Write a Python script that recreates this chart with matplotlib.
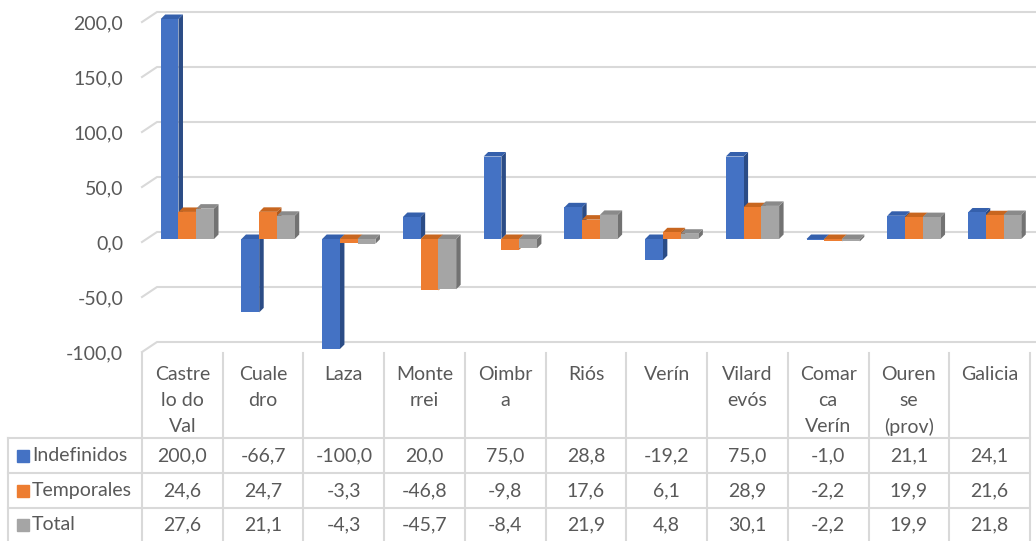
import matplotlib.pyplot as plt
from matplotlib.patches import Polygon
from matplotlib.transforms import ScaledTranslation, blended_transform_factory
import numpy as np

plt.rcParams['font.family'] = ['Lato', 'DejaVu Sans']

categories = ['Castre\nlo do\nVal', 'Cuale\ndro', 'Laza', 'Monte\nrrei', 'Oimbr\na',
              'Riós', 'Verín', 'Vilard\nevós', 'Comar\nca\nVerín', 'Ouren\nse\n(prov)',
              'Galicia']
series = ['Indefinidos', 'Temporales', 'Total']
indefinidos = [200.0, -66.7, -100.0, 20.0, 75.0, 28.8, -19.2, 75.0, -1.0, 21.1, 24.1]
temporales = [24.6, 24.7, -3.3, -46.8, -9.8, 17.6, 6.1, 28.9, -2.2, 19.9, 21.6]
total = [27.6, 21.1, -4.3, -45.7, -8.4, 21.9, 4.8, 30.1, -2.2, 19.9, 21.8]
yticks = [-100, -50, 0, 50, 100, 150, 200]

face = ['#4472C4', '#ED7D31', '#A5A5A5']
side = ['#2B4C86', '#AE5A1F', '#727272']
top = ['#3560AC', '#C8661F', '#8A8A8A']
grid = '#D9D9D9'
txt = '#595959'
fs = 14

W, H = 1036, 541
fig = plt.figure(figsize=(W / 100, H / 100), dpi=100)
ax = fig.add_axes([142 / W, (H - 352) / H, 888 / W, 330 / H])
ax.set_xlim(-0.5, len(categories) - 0.5)
ax.set_ylim(-100, 200)
ax.patch.set_visible(False)
for s in ax.spines.values():
    s.set_visible(False)
ax.set_xticks([])
ax.set_yticks(yticks)
ax.set_yticklabels([f'{v:.1f}'.replace('.', ',') for v in yticks])
ax.tick_params(axis='y', length=0, pad=13.5, labelsize=fs, labelcolor=txt)

# pixel -> data conversion for the oblique depth
kx = (len(categories)) / ax.bbox.width
ky = 300 / ax.bbox.height


def depth(x, y, dx, dy):
    return np.column_stack([np.asarray(x, float) + np.asarray(dx, float) * kx,
                            np.asarray(y, float) + np.asarray(dy, float) * ky])


# back wall gridlines and their slant on the side wall
wall_dx, wall_dy = 15, 10
for v in yticks:
    p = depth([-0.5, -0.5, 11.5], [v, v, v], [0, wall_dx, wall_dx], [0, wall_dy, wall_dy])
    ax.plot(p[:, 0], p[:, 1], color=grid, lw=1.5, clip_on=False, zorder=1)

# 3D columns: front faces via ax.bar, sides and caps as polygons
bar_dx, bar_dy = 5, 3
bd = 4.5
w = 0.22
shift = ax.transData + ScaledTranslation(bar_dx / 100, bar_dy / 100, fig.dpi_scale_trans)
x = np.arange(len(categories))
for s, vals in enumerate([indefinidos, temporales, total]):
    xs = x + (s - 1) * w
    ax.bar(xs, vals, width=w, color=face[s], transform=shift, zorder=3, clip_on=False)
    for xi, v in zip(xs, vals):
        x0, x1 = xi - w / 2, xi + w / 2
        x0, x1 = x0 + bar_dx * kx, x1 + bar_dx * kx
        b0 = bar_dy * ky
        sd = depth([x1, x1, x1, x1], [b0, b0 + v, b0 + v, b0], [0, 0, bd, bd], [0, 0, bd, bd])
        ax.add_patch(Polygon(sd, closed=True, color=side[s], lw=0, zorder=2, clip_on=False))
        t = b0 + max(v, 0)
        tp = depth([x0, x1, x1, x0], [t, t, t, t], [0, 0, bd, bd], [0, 0, bd, bd])
        ax.add_patch(Polygon(tp, closed=True, color=top[s], lw=0, zorder=2, clip_on=False))

# data table below the plot
tr = blended_transform_factory(ax.transData, fig.transFigure)
fy = lambda py: 1 - py / H
fx = lambda px: (px - 142) * kx - 0.5
row_lines = [438, 473, 508]
row_mid = [455.5, 490.5, 524.5]
for k in range(len(categories) + 1):
    ax.plot([k - 0.5, k - 0.5], [fy(353), fy(H + 2)], color=grid, lw=1.5, transform=tr, clip_on=False)
ax.plot([fx(8), fx(8)], [fy(438), fy(H + 2)], color=grid, lw=1.5, transform=tr, clip_on=False)
for py in row_lines:
    ax.plot([fx(8), len(categories) - 0.5], [fy(py), fy(py)], color=grid, lw=1.5,
            transform=tr, clip_on=False)

for i, name in enumerate(categories):
    for j, line in enumerate(name.split('\n')):
        ax.text(i, fy(375 + 26 * j), line, transform=tr, ha='center', va='center',
                fontsize=fs, color=txt)

for r, (label, vals) in enumerate(zip(series, [indefinidos, temporales, total])):
    ax.add_patch(plt.Rectangle((fx(17), fy(row_mid[r] + 6)), 12 * kx, 12 / H,
                               transform=tr, color=face[r], clip_on=False))
    ax.text(fx(32), fy(row_mid[r]), label, transform=tr, ha='left', va='center',
            fontsize=fs, color=txt)
    for i, v in enumerate(vals):
        ax.text(i, fy(row_mid[r]), f'{v:.1f}'.replace('.', ','), transform=tr,
                ha='center', va='center', fontsize=fs, color=txt)

fig.savefig('out.png', dpi=100)
